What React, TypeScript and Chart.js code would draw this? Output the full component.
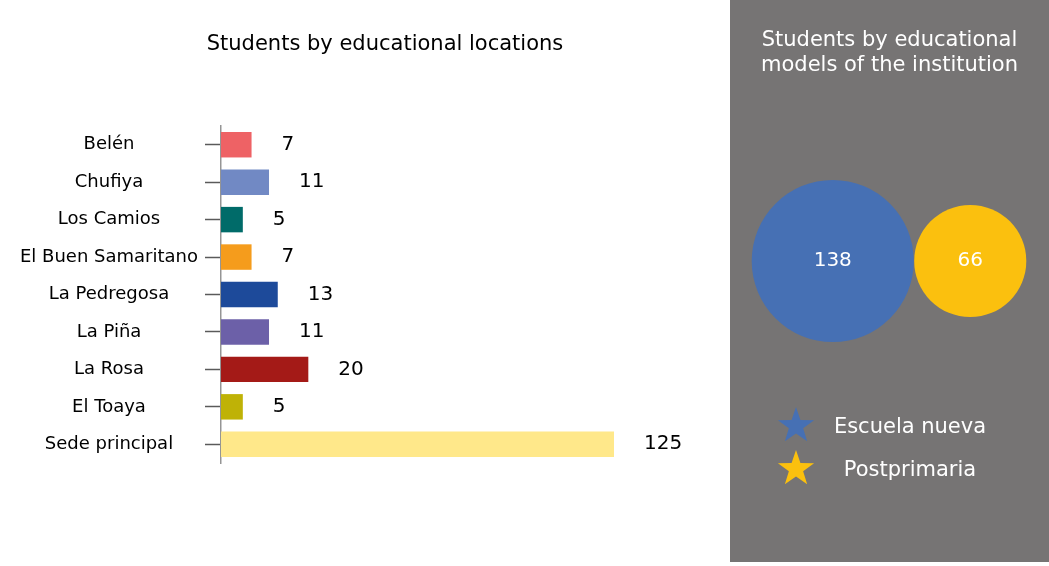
import { useEffect, useRef } from "react"
import { Chart, registerables } from "chart.js"

Chart.register(...registerables)

// Left chart: students per educational location
const locations = [
  "Belén",
  "Chufiya",
  "Los Camios",
  "El Buen Samaritano",
  "La Pedregosa",
  "La Piña",
  "La Rosa",
  "El Toaya",
  "Sede principal",
]
const students = [7, 11, 5, 7, 13, 11, 20, 5, 125]
const barColors = [
  "#ee6265",
  "#7189c4",
  "#006b69",
  "#f59c1c",
  "#1d4a9a",
  "#6c60a8",
  "#a41a17",
  "#bfb206",
  "#ffe88a",
]
// the axis is cut short, the longest bar runs past it
const axisMax = 90

// Right panel: students per educational model
const models = ["Escuela nueva", "Postprimaria"]
const modelStudents = [138, 66]
const modelColors = ["#4670b4", "#fbc00e"]

const FONT = "'DejaVu Sans', Verdana, sans-serif"
const PANEL = "#767474"

// title centred on the whole canvas (Chart.js centres it inside the padding)
function canvasTitle(lines: string[], top: number, color: string) {
  return {
    id: "canvasTitle",
    afterDraw(chart: Chart) {
      const { ctx, width } = chart
      ctx.save()
      ctx.font = `21px ${FONT}`
      ctx.fillStyle = color
      ctx.textAlign = "center"
      ctx.textBaseline = "middle"
      lines.forEach((line, i) => ctx.fillText(line, width / 2, top + i * 25))
      ctx.restore()
    },
  }
}

const barValues = {
  id: "barValues",
  afterDatasetsDraw(chart: Chart) {
    const { ctx, chartArea } = chart
    const meta = chart.getDatasetMeta(0)
    ctx.save()
    ctx.font = `20px ${FONT}`
    ctx.fillStyle = "#000"
    ctx.textAlign = "left"
    ctx.textBaseline = "middle"
    meta.data.forEach((bar, i) => {
      const end = Math.min(bar.x, chartArea.right)
      ctx.fillText(String(students[i]), end + 30, bar.y)
    })
    ctx.restore()
  },
}

const bubbleValues = {
  id: "bubbleValues",
  afterDatasetsDraw(chart: Chart) {
    const { ctx } = chart
    const meta = chart.getDatasetMeta(0)
    ctx.save()
    ctx.font = `20px ${FONT}`
    ctx.fillStyle = "#fff"
    ctx.textAlign = "center"
    ctx.textBaseline = "middle"
    meta.data.forEach((pt, i) => {
      ctx.fillText(String(modelStudents[i]), pt.x, pt.y)
    })
    ctx.restore()
  },
}

function LocationsChart() {
  const chartRef = useRef<HTMLCanvasElement>(null)
  const chartInstance = useRef<Chart | null>(null)

  useEffect(() => {
    if (!chartRef.current) return
    if (chartInstance.current) chartInstance.current.destroy()
    const ctx = chartRef.current.getContext("2d")
    if (!ctx) return

    chartInstance.current = new Chart(ctx, {
      type: "bar",
      data: {
        labels: locations,
        datasets: [
          {
            data: students,
            backgroundColor: barColors,
            borderWidth: 0,
            barPercentage: 0.68,
            categoryPercentage: 1,
          },
        ],
      },
      options: {
        indexAxis: "y",
        animation: false,
        responsive: true,
        maintainAspectRatio: false,
        events: [],
        layout: { padding: { top: 126, bottom: 103, left: 13, right: 156 } },
        scales: {
          x: { display: false, min: 0, max: axisMax },
          y: {
            offset: true,
            grid: {
              display: true,
              drawOnChartArea: false,
              drawTicks: true,
              tickLength: 16,
              tickWidth: 1.5,
              offset: false,
              color: "#5a5a5a",
            },
            border: { display: true, color: "#959595", width: 1.5 },
            ticks: {
              crossAlign: "center",
              padding: 7,
              color: "#000",
              font: { family: FONT, size: 18 },
            },
          },
        },
        plugins: {
          legend: { display: false },
          tooltip: { enabled: false },
          title: { display: false },
        },
      },
      plugins: [barValues, canvasTitle(["Students by educational locations"], 45, "#000")],
    })

    return () => {
      if (chartInstance.current) {
        chartInstance.current.destroy()
        chartInstance.current = null
      }
    }
  }, [])

  return <canvas ref={chartRef} />
}

function ModelsChart() {
  const chartRef = useRef<HTMLCanvasElement>(null)
  const chartInstance = useRef<Chart | null>(null)

  useEffect(() => {
    if (!chartRef.current) return
    if (chartInstance.current) chartInstance.current.destroy()
    const ctx = chartRef.current.getContext("2d")
    if (!ctx) return

    chartInstance.current = new Chart(ctx, {
      type: "bubble",
      data: {
        labels: models,
        datasets: [
          {
            // bubble area follows the number of students
            data: models.map((m, i) => ({ x: m, y: 0, r: 6.9 * Math.sqrt(modelStudents[i]) })),
            backgroundColor: modelColors,
            borderWidth: 0,
            clip: false,
          },
        ],
      },
      options: {
        animation: false,
        responsive: true,
        maintainAspectRatio: false,
        events: [],
        layout: { autoPadding: false, padding: { top: 200, bottom: 240, left: 34, right: 10 } },
        scales: {
          x: { type: "category", display: false, offset: true },
          y: { type: "linear", display: false, min: -1, max: 1 },
        },
        plugins: {
          legend: { display: false },
          tooltip: { enabled: false },
          title: { display: false },
        },
      },
      plugins: [
        bubbleValues,
        canvasTitle(["Students by educational", "models of the institution"], 41, "#fff"),
      ],
    })

    return () => {
      if (chartInstance.current) {
        chartInstance.current.destroy()
        chartInstance.current = null
      }
    }
  }, [])

  return <canvas ref={chartRef} />
}

function Star({ color }: { color: string }) {
  const pts: string[] = []
  for (let i = 0; i < 10; i++) {
    const rad = i % 2 === 0 ? 19 : 7.5
    const a = -Math.PI / 2 + (i * Math.PI) / 5
    pts.push(`${19 + rad * Math.cos(a)},${19 + rad * Math.sin(a)}`)
  }
  return (
    <svg width={38} height={36} viewBox="0 0 38 36" style={{ display: "block" }}>
      <polygon points={pts.join(" ")} fill={color} />
    </svg>
  )
}

export default function App() {
  return (
    <div style={{ position: "relative", width: 1049, height: 566, background: "#fff", fontFamily: FONT }}>
      <style>{"body{margin:0}"}</style>
      <div style={{ position: "absolute", left: 0, top: 0, width: 770, height: 566 }}>
        <LocationsChart />
      </div>
      <div style={{ position: "absolute", left: 730, top: 0, width: 319, height: 562, background: PANEL }}>
        <div style={{ position: "absolute", left: 0, top: 0, width: 319, height: 562 }}>
          <ModelsChart />
        </div>
        <div style={{ position: "absolute", left: 47, top: 403, color: "#fff", fontSize: 21 }}>
          {models.map((m, i) => (
            <div key={m} style={{ display: "flex", alignItems: "center", height: 43 }}>
              <Star color={modelColors[i]} />
              <div
                style={{
                  width: 170,
                  marginLeft: 10,
                  textAlign: "center",
                  whiteSpace: "nowrap",
                  lineHeight: "43px",
                  paddingTop: 4,
                }}
              >
                {m}
              </div>
            </div>
          ))}
        </div>
      </div>
    </div>
  )
}
